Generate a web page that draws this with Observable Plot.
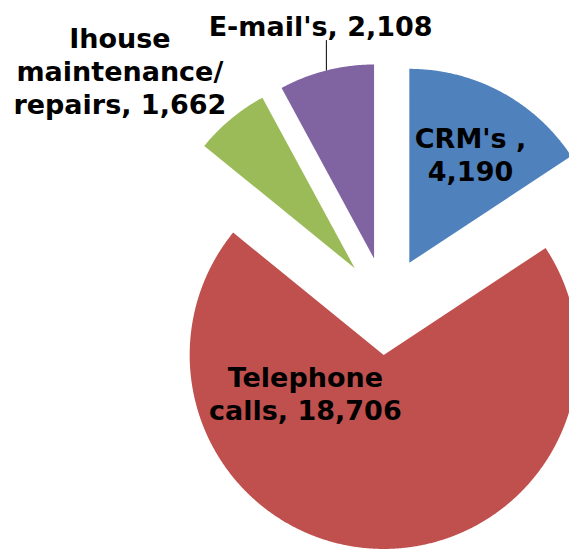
<!DOCTYPE html>
<html><head><meta charset="utf-8">
<script src="https://cdn.jsdelivr.net/npm/d3@7"></script>
<script src="https://cdn.jsdelivr.net/npm/@observablehq/plot@0.6"></script>
<style>html,body{margin:0;padding:0;background:#fff;}</style>
</head><body><div id="chart"></div>
<script>
// ---- data ----
const categories = ["CRM's", "Telephone calls", "Ihouse maintenance/repairs", "E-mail's"];
const values = [4190, 18706, 1662, 2108];
const labels = ["CRM's ,\n4,190", "Telephone\ncalls, 18,706", "Ihouse\nmaintenance/\nrepairs, 1,662", "E-mail's, 2,108"];
const colors = ["#4F81BD", "#C0504D", "#9BBB59", "#8064A2"];

// ---- layout (not data) ----
const W = 569, H = 549;
const layout = {cx: 385.6, cy: 305.5, r: 194, explode: 49};
const labelPlacement = [
  {angle: 29.4, dist: 124.7},
  {angle: 243.9, dist: 87.2},
  {angle: 310.1, dist: 307.2},
  {angle: 347.1, dist: 239.4}
];
const leaderFor = [false, false, false, true];

const rad = d => d * Math.PI / 180;
const arcs = d3.pie().sort(null).value(d => d)(values);
const slices = arcs.map((a, i) => {
  const mid = (a.startAngle + a.endAngle) / 2;
  const ox = layout.cx + layout.explode * Math.sin(mid);
  const oy = layout.cy - layout.explode * Math.cos(mid);
  const lp = labelPlacement[i];
  return {
    i, category: categories[i], value: values[i],
    start: a.startAngle, end: a.endAngle, mid, ox, oy,
    lx: ox + lp.dist * Math.sin(rad(lp.angle)),
    ly: oy - lp.dist * Math.cos(rad(lp.angle)),
    ax: ox + layout.r * Math.sin(mid),
    ay: oy - layout.r * Math.cos(mid)
  };
});

const outline = slices.flatMap(s => {
  const pts = [{category: s.category, x: s.ox, y: s.oy}];
  const n = Math.max(4, Math.ceil((s.end - s.start) / 0.005));
  for (let k = 0; k <= n; k++) {
    const t = s.start + (s.end - s.start) * k / n;
    pts.push({category: s.category, x: s.ox + layout.r * Math.sin(t), y: s.oy - layout.r * Math.cos(t)});
  }
  pts.push({category: s.category, x: s.ox, y: s.oy});
  return pts;
});

const chart = Plot.plot({
  width: W, height: H,
  margin: 0,
  x: {domain: [0, W], range: [0, W], axis: null},
  y: {domain: [0, H], range: [0, H], axis: null},
  color: {domain: categories, range: colors},
  style: {background: "#fff", overflow: "visible"},
  marks: [
    Plot.line(outline, {x: "x", y: "y", z: "category", fill: "category", stroke: "none", curve: "linear"}),
    Plot.link(slices.filter(s => leaderFor[s.i]), {
      x1: "ax", y1: "ay", x2: "ax", y2: s => s.ly + 15,
      stroke: "#000", strokeWidth: 1
    }),
    Plot.text(slices, {
      x: "lx", y: "ly", text: s => labels[s.i],
      fontSize: 27, fontWeight: "bold", fontFamily: "DejaVu Sans",
      lineHeight: 1.22, fill: "#000", textAnchor: "middle", lineAnchor: "middle"
    })
  ]
});
document.getElementById("chart").appendChild(chart);
</script>
</body></html>
